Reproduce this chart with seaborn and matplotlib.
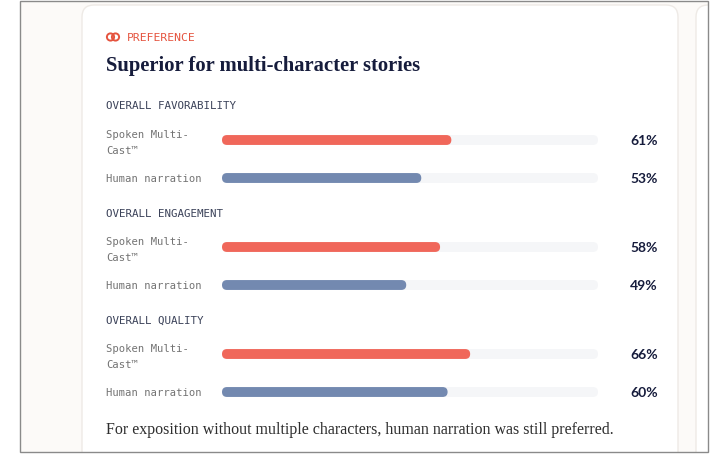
import numpy as np
import pandas as pd
import matplotlib.pyplot as plt
import seaborn as sns
from matplotlib.patches import FancyBboxPatch, Rectangle, Circle

# data
sections = ["OVERALL FAVORABILITY", "OVERALL ENGAGEMENT", "OVERALL QUALITY"]
groups = ["Spoken Multi-\nCast™", "Human narration"]
multicast = [61, 58, 66]
human = [53, 49, 60]

red = "#f0675a"
blue = "#7389b0"
track = "#f5f6f8"
navy = "#161c3c"

sns.set_theme(style="white")
plt.rcParams["font.family"] = ["DejaVu Sans"]

W, H = 728, 456
fig = plt.figure(figsize=(W / 100, H / 100), dpi=100)
fig.patch.set_facecolor("white")

# background / cards in pixel coordinates
bg = fig.add_axes([0, 0, 1, 1], zorder=-5)
bg.set_xlim(0, W)
bg.set_ylim(H, 0)
bg.axis("off")
frame = Rectangle((20, 2), 688, 451, facecolor="#fcfaf8", edgecolor="none")
bg.add_patch(frame)
for cx, cw in [(82, 596), (696, 60)]:
    card = FancyBboxPatch((cx, 6), cw, 480, boxstyle="round,pad=0,rounding_size=12",
                          facecolor="white", edgecolor="#eeeae6", lw=1.0)
    bg.add_patch(card)
    card.set_clip_path(frame)
bg.add_patch(Rectangle((20, 2), 688, 451, facecolor="none", edgecolor="#8a8a8a", lw=1.0))

# eyebrow icon + labels
bg.add_patch(Circle((110.5, 38), 3.6, facecolor="none", edgecolor="#e5543f", lw=1.4))
bg.add_patch(Circle((115.5, 38), 3.6, facecolor="none", edgecolor="#e5543f", lw=1.4))
bg.text(127, 38, "PREFERENCE", color="#e5543f", fontsize=8.2,
        family="DejaVu Sans Mono", va="center", ha="left")
bg.text(106, 66, "Superior for multi-character stories", color=navy, fontsize=14.9,
        family="Liberation Serif", fontweight="bold", va="center", ha="left")
bg.text(106, 430, "For exposition without multiple characters, human narration was still preferred.",
        color="#2e2e2e", fontsize=11.5, family="Liberation Serif", va="center", ha="left")

header_y = [106, 214, 321]
bar_top = [122, 229, 336]

df = pd.DataFrame({
    "section": np.repeat(sections, 2),
    "group": groups * 3,
    "value": [v for pair in zip(multicast, human) for v in pair],
})

x0, x1 = 222, 598
for i, sec in enumerate(sections):
    bg.text(106, header_y[i], sec, color="#3b4259", fontsize=7.8,
            family="DejaVu Sans Mono", va="center", ha="left")

    ax = fig.add_axes([x0 / W, 1 - (bar_top[i] + 76) / H, (x1 - x0) / W, 76 / H])
    ax.set_facecolor("none")
    sub = df[df["section"] == sec].copy()
    sub["full"] = 100
    sns.barplot(data=sub, x="full", y="group", color=track, width=0.26,
                saturation=1, ax=ax)
    sns.barplot(data=sub, x="value", y="group", hue="group", palette=[red, blue],
                width=0.26, saturation=1, legend=False, ax=ax)
    ax.set_xlim(0, 100)
    ax.set_ylim(1.5, -0.5)
    ax.axis("off")

    # swap rectangular bars for pill shapes
    ux = 100 / (x1 - x0)
    uy = 2 / 76
    for p in list(ax.patches):
        x, y = p.get_xy()
        w, h = p.get_width(), p.get_height()
        fc = p.get_facecolor()
        p.remove()
        ax.add_patch(FancyBboxPatch((x, y), w, h,
                                    boxstyle=f"round,pad=0,rounding_size={5 * ux}",
                                    mutation_aspect=uy / ux, facecolor=fc,
                                    edgecolor="none"))

    for j, row in enumerate(sub.itertuples()):
        ax.text(-(x0 - 106) / (x1 - x0), j + (0.05 if j == 0 else 0), row.group,
                transform=ax.get_yaxis_transform(), color="#737373", fontsize=7.6,
                family="DejaVu Sans Mono", va="center", ha="left", linespacing=1.75)
        ax.text((630 - x0) / (x1 - x0), j, f"{row.value}%", transform=ax.get_yaxis_transform(),
                color=navy, fontsize=10, family="Lato", fontweight="bold",
                va="center", ha="left")

fig.savefig("out.png", dpi=100)
